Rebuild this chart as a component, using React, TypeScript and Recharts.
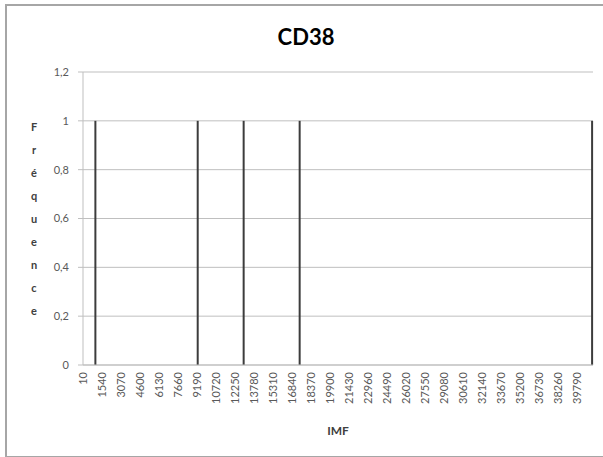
import React from 'react'
import { BarChart, Bar, XAxis, YAxis, CartesianGrid, ReferenceLine } from 'recharts'

// Histogramme CD38 : fréquence par classe d'IMF
const imfBins = [1000, 9240, 12940, 17450, 41000]
const frequencies = [1, 1, 1, 1, 1]
const imfTicks = [
  10, 1540, 3070, 4600, 6130, 7660, 9190, 10720, 12250, 13780, 15310, 16840, 18370, 19900,
  21430, 22960, 24490, 26020, 27550, 29080, 30610, 32140, 33670, 35200, 36730, 38260, 39790,
]
const freqTicks = [0, 0.2, 0.4, 0.6, 0.8, 1, 1.2]
const yTitle = 'Fréquence'

const chartData = imfBins.map((imf, i) => ({ imf, freq: frequencies[i] }))

const FONT = 'Lato, "Liberation Sans", sans-serif'
const TEXT = '#595959'
const GRID = '#bfbfbf'

// ── Ticks / titres d'axe ─────────────────────────────────────────────────────

function ImfTick({ x, y, payload }: any) {
  return (
    <g transform={`translate(${x},${y + 7})`}>
      <text x={0} y={0} dy={4} transform="rotate(-90)" textAnchor="end" fontSize={11} fontFamily={FONT} fill={TEXT}>
        {payload.value}
      </text>
    </g>
  )
}

// titre vertical empilé, une lettre par ligne (comme Excel)
function StackedTitle({ viewBox }: any) {
  const cy = viewBox ? viewBox.y + viewBox.height / 2 : 219
  const step = 23
  const letters = yTitle.split('')
  const start = cy - ((letters.length - 1) * step) / 2
  return (
    <text fontSize={11} fontWeight={700} fontFamily={FONT} fill="#404040" textAnchor="middle">
      {letters.map((ch, i) => (
        <tspan key={i} x={34} y={start + i * step + 4}>
          {ch}
        </tspan>
      ))}
    </text>
  )
}

// ── Composant principal ──────────────────────────────────────────────────────

export default function App() {
  const lastTick = imfTicks[imfTicks.length - 1]
  const lastBin = imfBins[imfBins.length - 1]
  return (
    <div style={styles.page}>
      <div style={styles.frame} />
      <div style={styles.title}>CD38</div>
      <BarChart
        width={603}
        height={457}
        data={chartData}
        margin={{ top: 72, right: 10, bottom: 42, left: 23 }}
        style={{ position: 'absolute', left: 0, top: 0 }}
      >
        <CartesianGrid vertical={false} stroke={GRID} />
        <XAxis
          dataKey="imf"
          type="number"
          domain={[5, 41075]}
          ticks={imfTicks}
          interval={0}
          height={50}
          tickLine={false}
          tickSize={0}
          tickMargin={0}
          axisLine={{ stroke: GRID }}
          tick={<ImfTick />}
          label={{
            value: 'IMF',
            position: 'bottom',
            offset: 11,
            style: { fontSize: 12, fontWeight: 700, fontFamily: FONT, fill: '#404040' },
          }}
        />
        <YAxis
          type="number"
          domain={[0, 1.2]}
          ticks={freqTicks}
          width={60}
          tickSize={5}
          tickMargin={9}
          tickLine={{ stroke: GRID }}
          axisLine={{ stroke: GRID }}
          tickFormatter={(v: number) => String(v).replace('.', ',')}
          tick={{ fontSize: 11, fontFamily: FONT, fill: TEXT }}
          label={<StackedTitle />}
        />
        {/* repères invisibles : sans eux la dernière classe n'est pas dessinée */}
        <ReferenceLine x={lastTick} stroke="none" />
        <ReferenceLine x={lastBin} stroke="none" />
        <Bar dataKey="freq" fill="#3c3c3c" barSize={2} isAnimationActive={false} />
      </BarChart>
    </div>
  )
}

// ── Styles ───────────────────────────────────────────────────────────────────

const styles = {
  page: { position: 'absolute', left: 0, top: 0, width: 603, height: 457, overflow: 'hidden', background: '#fff' },
  frame: { position: 'absolute', left: 5, top: 4, width: 610, height: 450, border: '2px solid #a6a6a6' },
  title: {
    position: 'absolute', left: 0, top: 24, width: 612, textAlign: 'center', fontFamily: FONT,
    fontWeight: 700, fontSize: 22, lineHeight: '26px', color: '#000',
  },
} as const
